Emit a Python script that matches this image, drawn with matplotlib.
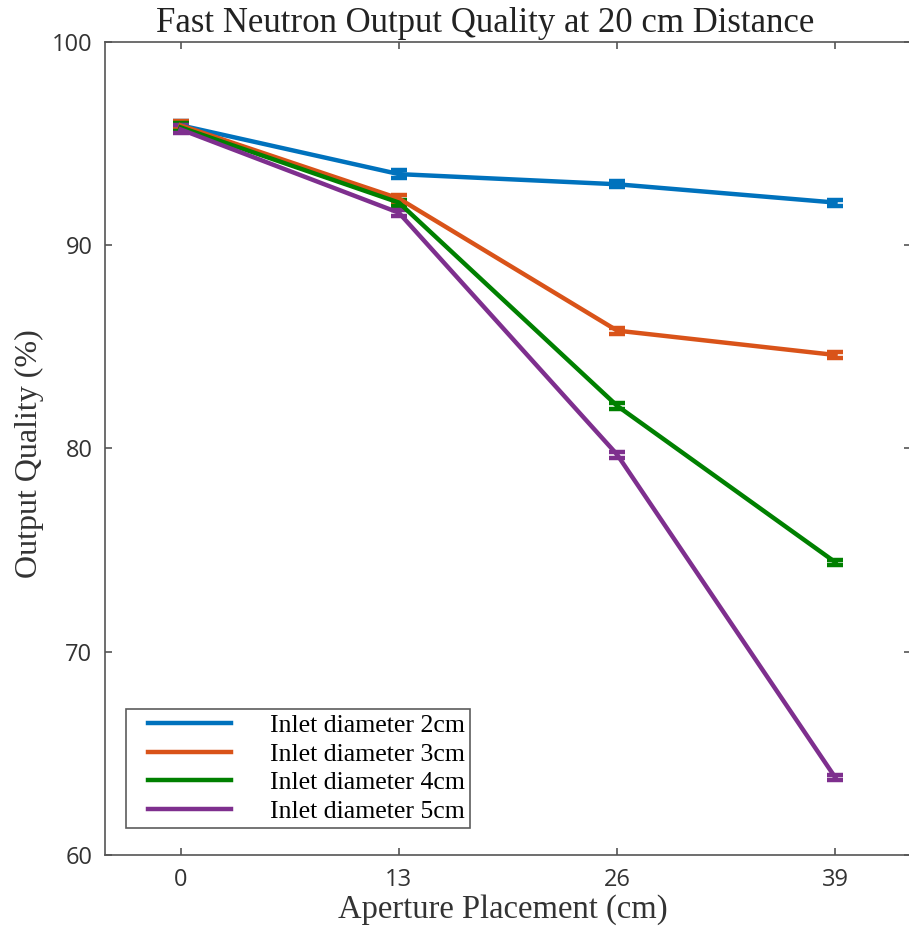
import matplotlib
matplotlib.use("Agg")
import matplotlib.pyplot as plt
from matplotlib.legend_handler import HandlerLine2D

positions = [0, 13, 26, 39]
series_labels = ["Inlet diameter 2cm", "Inlet diameter 3cm", "Inlet diameter 4cm", "Inlet diameter 5cm"]
q_2cm = [95.9, 93.5, 93.0, 92.1]
q_3cm = [95.9, 92.3, 85.8, 84.6]
q_4cm = [95.8, 92.1, 82.1, 74.4]
q_5cm = [95.7, 91.6, 79.7, 63.8]
err_2cm = [0.2, 0.2, 0.15, 0.15]
err_3cm = [0.2, 0.15, 0.15, 0.15]
err_4cm = [0.2, 0.15, 0.15, 0.12]
err_5cm = [0.2, 0.15, 0.15, 0.12]
colors = ["#0072BD", "#D95319", "#008000", "#7E2F8E"]
yticks = [60, 70, 80, 90, 100]


class PaddedLineHandler(HandlerLine2D):
    def __init__(self, pad=12, **kw):
        super().__init__(**kw)
        self.pad = pad

    def create_artists(self, legend, orig_handle, xdescent, ydescent, width, height, fontsize, trans):
        arts = super().create_artists(legend, orig_handle, xdescent, ydescent, width, height, fontsize, trans)
        line = arts[0]
        xd = list(line.get_xdata())
        if len(xd) >= 2:
            xd[0] = xd[0] + self.pad
            line.set_xdata(xd)
        return arts


fig = plt.figure(figsize=(9.09, 9.32), dpi=100)
ax = fig.add_axes([105/909, 1-855/932, (911-105)/909, (855-42)/932])

serif = ["Liberation Serif", "DejaVu Serif"]
handles = []
for vals, errs, c, lab in zip([q_2cm, q_3cm, q_4cm, q_5cm],
                              [err_2cm, err_3cm, err_4cm, err_5cm], colors, series_labels):
    cont = ax.errorbar(positions, vals, yerr=errs, color=c, lw=3.2, elinewidth=3.2,
                       capsize=5.5, capthick=3.2, label=lab)
    handles.append(cont.lines[0])

ax.set_xlim(-4.5, 43.5)
ax.set_ylim(60, 100)
ax.set_xticks(positions)
ax.set_yticks(yticks)
axcol = "#555555"
for s in ax.spines.values():
    s.set_color(axcol)
    s.set_linewidth(1.2)
ax.tick_params(direction="in", top=True, right=True, length=5, width=1.2,
               color=axcol, labelcolor="#333333", labelsize=17)
for t in ax.get_xticklabels() + ax.get_yticklabels():
    t.set_fontfamily(["Open Sans", "DejaVu Sans"])
ax.tick_params(axis="x", pad=9)
ax.tick_params(axis="y", pad=9)

fig.text(485/909, 1-24/932, "Fast Neutron Output Quality at 20 cm Distance", family=serif,
         fontsize=25, color="#222222", ha="center", va="center")
ax.set_xlabel("Aperture Placement (cm)", family=serif, fontsize=23.5, color="#333333", labelpad=2)
ax.xaxis.set_label_coords((503-105)/806, -0.043, transform=None) if False else None
ax.xaxis.label.set_position(((503-105)/806, 0))
ax.set_ylabel("Output Quality (%)", family=serif, fontsize=23, color="#333333", labelpad=6)
ax.yaxis.label.set_position((0, (855-454)/813))

leg = ax.legend(handles, series_labels, loc="lower left", bbox_to_anchor=(0.026, 0.033),
                prop={"family": serif, "size": 18.5},
                handler_map={h: PaddedLineHandler(pad=12) for h in handles},
                frameon=True, fancybox=False, edgecolor="#333333", handlelength=3.9,
                handletextpad=1.5, borderpad=0.2, labelspacing=0.22, borderaxespad=0)
leg.get_frame().set_linewidth(1.2)

fig.savefig("out.png", dpi=100)
